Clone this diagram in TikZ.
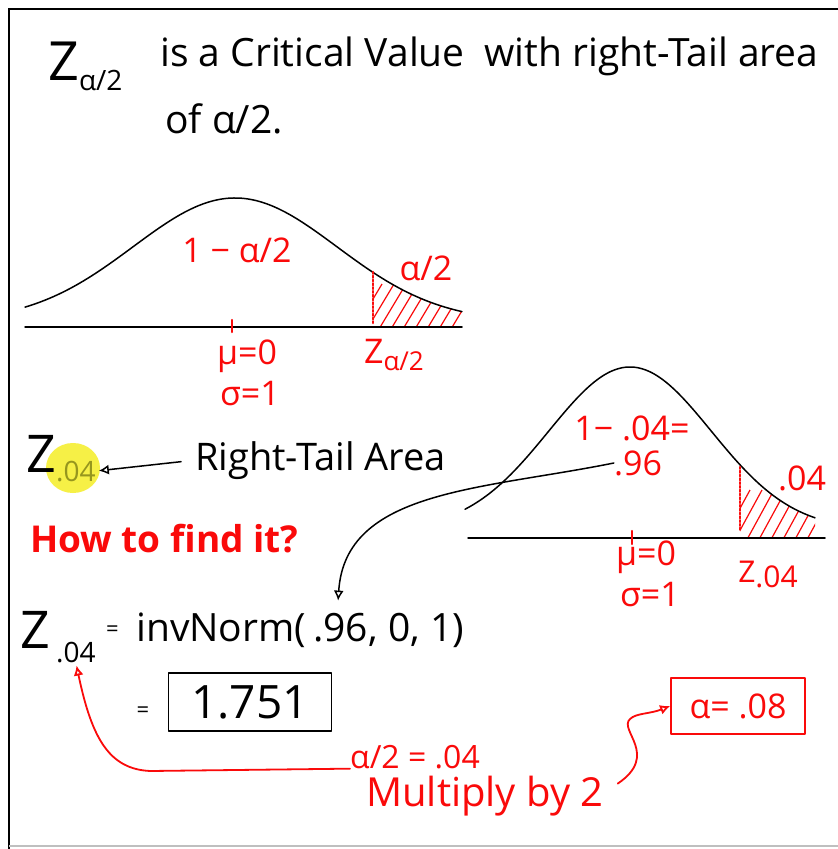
\documentclass[tikz,border=0pt]{standalone}
\usepackage{fontspec}
\setmainfont{Open Sans}
\usetikzlibrary{arrows.meta}
\definecolor{pen}{RGB}{250,10,10}
\definecolor{hl}{RGB}{246,240,70}
\definecolor{hltext}{RGB}{150,150,30}
\begin{document}
\begin{tikzpicture}[x=1pt,y=-1pt,
  ink/.style={line width=1.5pt,black,line cap=round,line join=round},
  redpen/.style={line width=1.8pt,pen,line cap=round,line join=round},
  hand/.style={inner sep=0pt,anchor=base west},
  lab/.style={inner sep=0pt,text=pen,font=\fontsize{34}{38}\selectfont},
  txt/.style={font=\fontsize{39}{44}\selectfont},
  openhead/.style={-{Latex[open,length=10pt,width=10pt]}}
]
\useasboundingbox (0,0) rectangle (838,849);
\fill[white] (0,0) rectangle (838,849);
% frame
\draw[line width=2.2pt] (9,849) -- (9,9) -- (838,9);
\draw[line width=2.2pt,black!25] (9,846) -- (838,846);

% title
\node[hand,font=\fontsize{54}{58}\selectfont] (tz) at (48,80) {Z\raisebox{-10pt}{\fontsize{28}{32}\selectfont α/2}};
\node[hand,txt] (t1) at (160,66) {is a Critical Value\enspace with right-Tail area};
\node[hand,txt] (t2) at (165,133) {of α/2.};

% curve 1
\begin{scope}
  \clip plot[domain=373:462,samples=40] (\x,{322-124*exp(-((\x-235)/100)^2/2.079)}) -- (462,327) -- (373,327) -- cycle;
  \foreach \i in {352,364,...,476} \draw[pen,line width=1.2pt] (\i,334) -- (\i+30,284);
\end{scope}
\draw[ink] plot[domain=25:462,samples=90,smooth] (\x,{322-124*exp(-((\x-235)/100)^2/2.079)});
\draw[ink] (25,327) -- (462,327);
\draw[redpen,line width=2.5pt] (232,320) -- (232,332);
\draw[redpen,dotted,line width=2.6pt] (373,272) -- (373,323);
\node[lab] (c1a) at (237,250) {1 − α/2};
\node[lab] (c1b) at (426,268) {α/2};
\node[lab] (c1mu) at (247,356) {μ=0};
\node[lab] (c1sd) at (250,394) {σ=1};
\node[lab] (c1z) at (394,355) {Z\raisebox{-7pt}{\fontsize{26}{30}\selectfont α/2}};

% Z.04 row
\fill[hl] (73,468) ellipse [x radius=27,y radius=25];
\node[hand,font=\fontsize{52}{56}\selectfont] (zz) at (26,472) {Z};
\node[hand,font=\fontsize{28}{32}\selectfont,text=hltext] (zsub) at (56,481) {.04};
\node[hand,txt,font=\fontsize{38}{44}\selectfont] (rta) at (195,470) {Right-Tail Area};
\draw[ink,openhead,shorten <=14pt,shorten >=3pt] (rta.west) -- (zsub.east);

\node[hand,font=\bfseries\fontsize{37}{42}\selectfont,text=pen] (how) at (30,552) {How to find it?};

% curve 2
\begin{scope}
  \clip plot[domain=740:815,samples=40] (\x,{530-163*exp(-((\x-630)/100)^2/1.321)}) -- (815,538) -- (740,538) -- cycle;
  \foreach \i in {720,732,...,832} \draw[pen,line width=1.2pt] (\i,545) -- (\i+30,490);
\end{scope}
\draw[ink] plot[domain=465:815,samples=90,smooth] (\x,{530-163*exp(-((\x-630)/100)^2/1.321)});
\draw[ink] (468,538) -- (825,538);
\draw[redpen,line width=2.5pt] (632,531) -- (632,544);
\draw[redpen,dotted,line width=2.6pt] (740,467) -- (740,531);
\node[lab] (c2a) at (632,428) {1− .04=};
\node[lab] (c2b) at (638,463) {.96};
\node[lab] (c2c) at (802,478) {.04};
\node[lab] (c2mu) at (646,557) {μ=0};
\node[lab] (c2sd) at (650,595) {σ=1};
\node[lab,font=\fontsize{30}{34}\selectfont] (c2z) at (768,574) {Z\raisebox{-5pt}{.04}};

% invNorm row
\node[hand,font=\fontsize{52}{56}\selectfont] (iz) at (20,648) {Z};
\node[hand,font=\fontsize{28}{32}\selectfont] (izs) at (56,662) {.04};
\node[hand,font=\fontsize{22}{26}\selectfont] (ieq) at (106,636) {=};
\node[hand,font=\fontsize{39}{44}\selectfont] (inv) at (136,641) {invNorm(};
\node[hand,font=\fontsize{39}{44}\selectfont] (i96) at (inv.base east) {\,.96};
\node[hand,font=\fontsize{39}{44}\selectfont] (irest) at (i96.base east) {, 0, 1)};
\draw[ink,openhead,shorten >=12pt] (c2b.west) .. controls (480,490) and (345,490) .. (i96.north);

\node[font=\fontsize{22}{26}\selectfont,inner sep=0pt] (beq) at (143,712) {=};
\node[draw,ink,minimum width=163pt,minimum height=58pt,inner sep=0pt,font=\fontsize{46}{50}\selectfont] (res) at (250,702) {1.751};

% red annotations
\node[hand,font=\fontsize{32}{36}\selectfont,text=pen] (a2) at (350,768) {α/2 = .04};
\node[hand,font=\fontsize{40}{44}\selectfont,text=pen] (mult) at (366,806) {Multiply by 2};
\draw[redpen,openhead,shorten >=3pt] (a2.south west) -- (150,771) .. controls (110,769) and (92,740) .. (izs.south);
\node[draw,redpen,minimum width=134pt,minimum height=56pt,inner sep=0pt,text=pen,font=\fontsize{34}{38}\selectfont] (alpha) at (738,706) {α= .08};
\draw[redpen,openhead] (mult.east) ++(14,-12) .. controls (660,755) and (618,730) .. (630,719) .. controls (636,713) and (650,714) .. (alpha.west);
\end{tikzpicture}
\end{document}
